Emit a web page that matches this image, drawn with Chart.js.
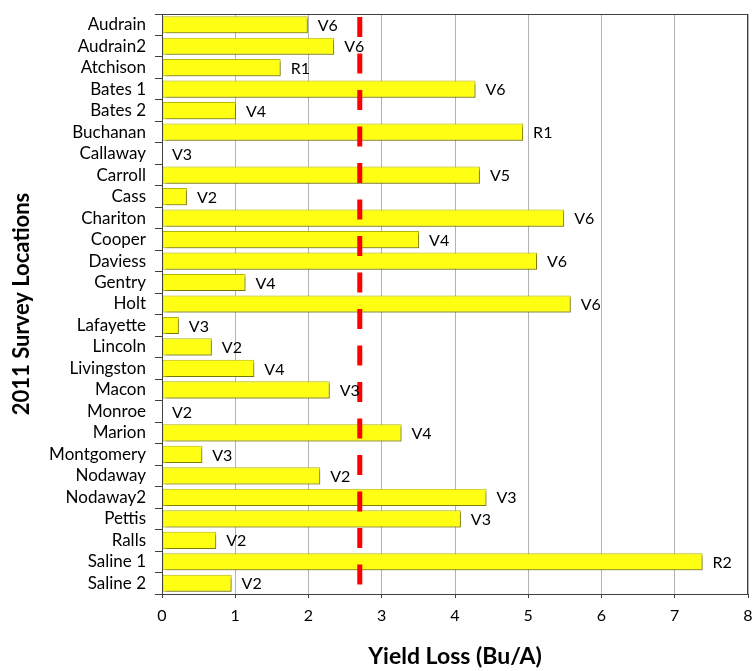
<!DOCTYPE html>
<html>
<head>
<meta charset="utf-8">
<script src="https://cdn.jsdelivr.net/npm/chart.js@4"></script>
<style>
  body { margin: 0; background: #fff; }
  #wrap { width: 753px; height: 671px; }
</style>
</head>
<body>
<div id="wrap"><canvas id="myChart" width="753" height="671"></canvas></div>
<script>
const locations = ['Audrain', 'Audrain2', 'Atchison', 'Bates 1', 'Bates 2', 'Buchanan', 'Callaway', 'Carroll', 'Cass',
    'Chariton', 'Cooper', 'Daviess', 'Gentry', 'Holt', 'Lafayette', 'Lincoln', 'Livingston', 'Macon', 'Monroe',
    'Marion', 'Montgomery', 'Nodaway', 'Nodaway2', 'Pettis', 'Ralls', 'Saline 1', 'Saline 2'];
const yieldLoss = [1.99, 2.35, 1.62, 4.28, 1.01, 4.93, 0, 4.34, 0.34,
    5.49, 3.51, 5.12, 1.14, 5.58, 0.23, 0.68, 1.26, 2.29, 0,
    3.27, 0.55, 2.16, 4.43, 4.08, 0.74, 7.38, 0.95];
const growthStage = ['V6', 'V6', 'R1', 'V6', 'V4', 'R1', 'V3', 'V5', 'V2',
    'V6', 'V4', 'V6', 'V4', 'V6', 'V3', 'V2', 'V4', 'V3', 'V2',
    'V4', 'V3', 'V2', 'V3', 'V3', 'V2', 'R2', 'V2'];
const xTicks = [0, 1, 2, 3, 4, 5, 6, 7, 8];
const averageLoss = 2.7;

const FONT = 'Lato, "Open Sans", sans-serif';

// shadow under the bars, like the office-style 3d bars
const barShadow = {
    id: 'barShadow',
    beforeDatasetsDraw(chart) {
        const c = chart.ctx;
        c.save();
        c.shadowColor = 'rgba(0,0,0,0.35)';
        c.shadowOffsetX = 2;
        c.shadowOffsetY = 2;
        c.shadowBlur = 2;
    },
    afterDatasetsDraw(chart) {
        chart.ctx.restore();
    }
};

// plot box, red dashed average line and growth stage labels
const extras = {
    id: 'extras',
    afterDraw(chart) {
        const c = chart.ctx;
        const area = chart.chartArea;
        const x = chart.scales.x;

        c.save();
        c.strokeStyle = '#404040';
        c.lineWidth = 1;
        c.strokeRect(area.left + 0.5, area.top + 0.5, area.right - area.left - 1, area.bottom - area.top);

        const lx = x.getPixelForValue(averageLoss);
        c.strokeStyle = '#ff0000';
        c.lineWidth = 5;
        c.setLineDash([20, 16.5]);
        c.beginPath();
        c.moveTo(lx, area.top + 3);
        c.lineTo(lx, area.bottom);
        c.stroke();
        c.setLineDash([]);

        c.fillStyle = '#000';
        c.font = '16px ' + FONT;
        c.textAlign = 'left';
        c.textBaseline = 'middle';
        chart.getDatasetMeta(0).data.forEach((bar, i) => {
            c.fillText(growthStage[i], bar.x + 10, bar.y + 1);
        });
        c.restore();
    }
};

const ctx = document.getElementById('myChart').getContext('2d');

const myChart = new Chart(ctx, {
    type: 'bar',
    data: {
        labels: locations,
        datasets: [{
            data: yieldLoss,
            backgroundColor: '#ffff14',
            borderColor: '#b5b500',
            borderWidth: 1,
            borderSkipped: false,
            categoryPercentage: 0.8,
            barPercentage: 1.0
        }]
    },
    options: {
        indexAxis: 'y',
        responsive: false,
        animation: false,
        layout: { padding: { top: 14, right: 0 } },
        plugins: {
            legend: { display: false },
            tooltip: { enabled: false }
        },
        scales: {
            x: {
                min: 0,
                max: 8,
                afterFit: (s) => { s.height = 77; s.paddingRight = 5; },
                afterBuildTicks: (s) => { s.ticks = xTicks.map(v => ({ value: v })); },
                grid: {
                    color: '#b3b3b3',
                    tickColor: '#404040',
                    tickLength: 4
                },
                border: { color: '#404040' },
                ticks: {
                    color: '#000',
                    padding: 8,
                    font: { family: FONT, size: 16 }
                },
                title: {
                    display: true,
                    text: 'Yield Loss (Bu/A)',
                    color: '#000',
                    padding: { top: 0, bottom: 1 },
                    font: { family: FONT, size: 23, weight: 'bold' }
                }
            },
            y: {
                afterFit: (s) => { s.width = 162; s.paddingTop = 0; s.paddingBottom = 0; },
                grid: {
                    drawOnChartArea: false,
                    offset: true,
                    tickColor: '#404040',
                    tickLength: 7
                },
                border: { color: '#404040' },
                ticks: {
                    color: '#000',
                    padding: 9,
                    autoSkip: false,
                    font: { family: FONT, size: 17 }
                },
                title: {
                    display: true,
                    text: '2011 Survey Locations',
                    color: '#000',
                    padding: { top: 9, bottom: 0 },
                    font: { family: FONT, size: 22, weight: 'bold' }
                }
            }
        }
    },
    plugins: [barShadow, extras]
});
</script>
</body>
</html>
